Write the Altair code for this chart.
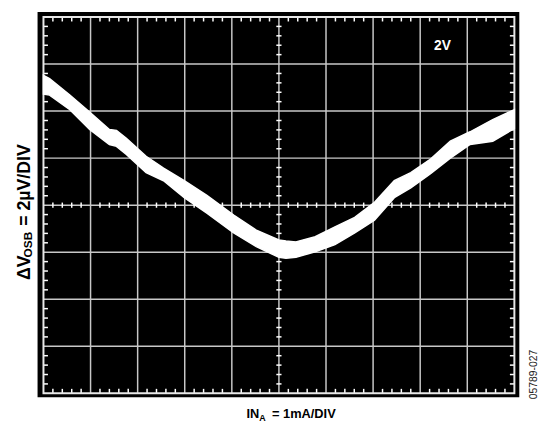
import altair as alt
import pandas as pd

# Trace (in divisions): x = IN_A divisions, top/bottom edges of the thick noisy trace
trace_x = [0.00, 0.13, 0.56, 0.98, 1.40, 1.55, 1.76, 2.18, 2.55, 2.99, 3.47, 4.04,
           4.52, 5.00, 5.15, 5.36, 5.77, 6.19, 6.61, 7.03, 7.45, 7.80, 8.22, 8.64,
           9.06, 9.54, 10.00]
trace_top = [6.76, 6.69, 6.34, 5.98, 5.61, 5.59, 5.42, 5.04, 4.79, 4.52, 4.21, 3.79,
             3.47, 3.26, 3.24, 3.22, 3.33, 3.54, 3.74, 4.06, 4.52, 4.69, 4.98, 5.36,
             5.56, 5.82, 6.03]
trace_bottom = [6.36, 6.34, 6.03, 5.61, 5.29, 5.25, 5.08, 4.69, 4.52, 4.16, 3.83, 3.41,
                3.12, 2.89, 2.87, 2.89, 3.01, 3.16, 3.41, 3.68, 4.16, 4.37, 4.67, 5.00,
                5.29, 5.36, 5.63]

x_major = [1, 2, 3, 4, 5, 6, 7, 8, 9]
y_major = [1, 2, 3, 4, 5, 6, 7]
x_minor = [round(i * 0.2, 1) for i in range(1, 50) if i % 5]
y_minor = [round(i * 0.2, 1) for i in range(1, 40) if i % 5]

W, H = 489, 391
xs = alt.Scale(domain=[-0.1255, 10.1046], nice=False, zero=False)
ys = alt.Scale(domain=[-0.0838, 8.1047], nice=False, zero=False)

GRID = "#c8c8c8"
FONT = "Liberation Sans"

one = pd.DataFrame({"a": [0]})
dfx = pd.DataFrame({"x": x_major})
dfy = pd.DataFrame({"y": y_major})
dfxm = pd.DataFrame({"x": x_minor})
dfym = pd.DataFrame({"y": y_minor})


def X(v):
    return alt.X(datum=v, scale=xs, axis=None)


def Y(v):
    return alt.Y(datum=v, scale=ys, axis=None)


Xf = alt.X("x:Q", scale=xs, axis=None)
Yf = alt.Y("y:Q", scale=ys, axis=None)

vgrid = alt.Chart(dfx).mark_rule(color=GRID, strokeWidth=1.5).encode(
    x=Xf, y=Y(0), y2=alt.Y2(datum=8))
hgrid = alt.Chart(dfy).mark_rule(color=GRID, strokeWidth=1.5).encode(
    y=Yf, x=X(0), x2=alt.X2(datum=10))

frame = alt.Chart(one).mark_rect(fillOpacity=0, stroke="#e8e8e8", strokeWidth=2).encode(
    x=X(0), x2=alt.X2(datum=10), y=Y(0), y2=alt.Y2(datum=8))

TL = 0.095   # edge tick length (divisions)
TC = 0.055   # centre tick half length

tick_kw = dict(color="white", strokeWidth=1.5)
t_bottom = alt.Chart(dfxm).mark_rule(**tick_kw).encode(x=Xf, y=Y(0), y2=alt.Y2(datum=TL))
t_top = alt.Chart(dfxm).mark_rule(**tick_kw).encode(x=Xf, y=Y(8), y2=alt.Y2(datum=8 - TL))
t_hc = alt.Chart(dfxm).mark_rule(**tick_kw).encode(x=Xf, y=Y(4 - TC), y2=alt.Y2(datum=4 + TC))
t_left = alt.Chart(dfym).mark_rule(**tick_kw).encode(y=Yf, x=X(0), x2=alt.X2(datum=TL))
t_right = alt.Chart(dfym).mark_rule(**tick_kw).encode(y=Yf, x=X(10), x2=alt.X2(datum=10 - TL))
t_vc = alt.Chart(dfym).mark_rule(**tick_kw).encode(y=Yf, x=X(5 - TC), x2=alt.X2(datum=5 + TC))

trace_df = pd.DataFrame({"x": trace_x, "top": trace_top, "bottom": trace_bottom})
trace = alt.Chart(trace_df).mark_area(color="white", stroke="white", strokeWidth=1.5).encode(
    x=Xf, y=alt.Y("top:Q", scale=ys, axis=None), y2="bottom:Q")


def label(text, x, y, size, bold=True, angle=0, color="black", align="left"):
    return alt.Chart(one).mark_text(
        text=text, font=FONT, fontSize=size, fontWeight="bold" if bold else "normal",
        angle=angle, align=align, baseline="alphabetic", color=color
    ).encode(x=alt.value(x), y=alt.value(y))


# y title: ΔV_OSB = 2µV/DIV (rotated)
ylab = [
    label("ΔV", -8, 272, 18, angle=270),
    label("OSB", -6, 249, 12, angle=270),
    label("= 2µV/DIV", -8, 217, 18, angle=270),
]
# x title: IN_A = 1mA/DIV
xlab = [
    label("IN", 212, 412, 13),
    label("A", 225, 415, 9),
    label("= 1mA/DIV", 238, 412, 13),
]
v2 = label("2V", 411, 38, 14, color="white", align="center")
code = label("05789-027", 507, 393, 10.5, bold=False, angle=270, color="#222222")

chart = alt.layer(
    vgrid, hgrid, t_bottom, t_top, t_hc, t_left, t_right, t_vc, frame, trace,
    *ylab, *xlab, v2, code
).properties(
    width=W, height=H,
    padding={"left": 30, "top": 1, "right": 20, "bottom": 25},
    autosize=alt.AutoSizeParams(type="none"),
    background="white",
).configure_view(fill="black", strokeWidth=0)

chart.save("out.html", embed_options={"renderer": "svg", "actions": False})
